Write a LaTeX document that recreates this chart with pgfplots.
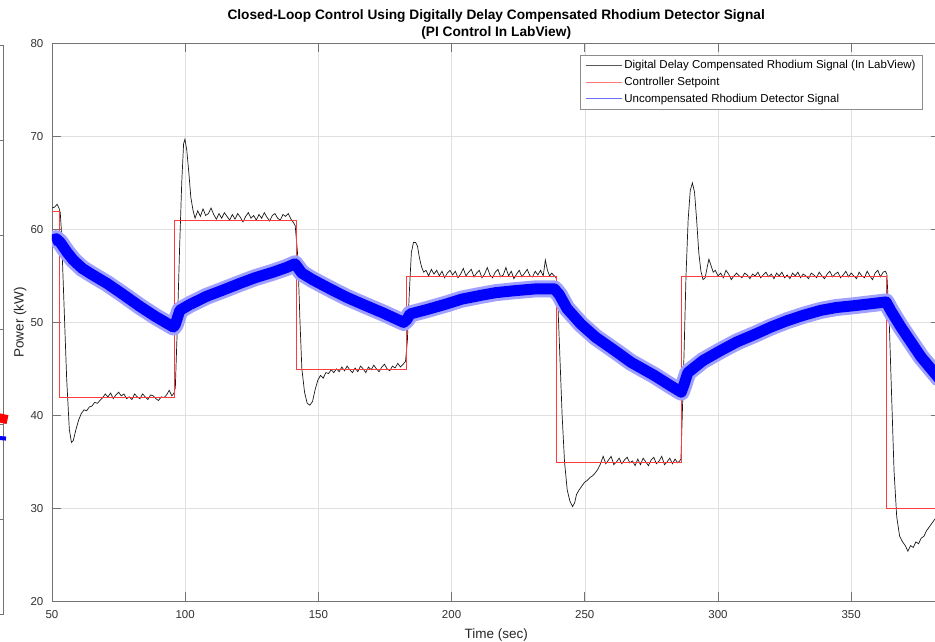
\documentclass[border=0pt]{standalone}
\usepackage{fontspec}
\setmainfont{Liberation Sans}
\usepackage{pgfplots}
\pgfplotsset{compat=1.18}
\definecolor{legblack}{RGB}{90,90,90}
\definecolor{legred}{RGB}{255,120,120}
\definecolor{legblue}{RGB}{110,110,255}
\definecolor{setred}{RGB}{255,60,60}
\definecolor{halo}{RGB}{160,160,255}
\begin{document}
\begin{tikzpicture}
% fragment of neighbouring figure (right edge only visible)
\begin{axis}[at={(-49pt,-12.6pt)}, anchor=south east, scale only axis,
  width=300pt, height=569pt, xmin=0, xmax=100, ymin=0, ymax=6,
  ytick={1,2,3,4,5}, xtick=\empty, yticklabels={},
  axis line style={black!55, line width=0.6pt}, tick style={black!55},
  major tick length=9pt, tick align=inside, clip=false]
\addplot[red, line width=9pt, forget plot] coordinates {(97,2.08) (101.5,2.05)};
\addplot[blue, line width=4pt, forget plot] coordinates {(97,1.86) (101,1.85)};
\end{axis}
\begin{axis}[at={(0pt,0pt)}, anchor=south west, scale only axis,
  width=888.4pt, height=558pt,
  xmin=50, xmax=383.5, ymin=20, ymax=80,
  xtick={50,100,...,350}, ytick={20,30,...,80},
  grid=major, grid style={black!12, line width=0.5pt},
  axis line style={black!55, line width=0.6pt}, tick style={black!55, line width=0.6pt},
  tick align=inside, major tick length=9pt,
  /pgf/number format/assume math mode=true,
  ticklabel style={font=\fontsize{11.5}{13}\selectfont, text=black!80},
  xticklabel style={anchor=center, yshift=-13.6pt, inner sep=0pt},
  yticklabel style={anchor=east, xshift=-8.5pt, inner sep=0pt},
  title={Closed-Loop Control Using Digitally Delay Compensated Rhodium Detector Signal\\(PI Control In LabView)},
  title style={font=\bfseries\fontsize{13.7}{17}\selectfont, align=center,
    at={(axis description cs:0.5,1)}, anchor=center, yshift=13pt},
  xlabel={Time (sec)}, ylabel={Power (kW)},
  label style={font=\fontsize{13.5}{15}\selectfont, text=black!85},
  xlabel style={at={(axis description cs:0.5,0)}, anchor=center, yshift=-33.6pt},
  ylabel style={at={(axis description cs:-0.036,0.5)}, anchor=center},
  legend style={at={(axis cs:376.9,78.75)}, anchor=north east, draw=black!45, fill=white,
    font=\fontsize{11.5}{13}\selectfont, row sep=3pt, inner xsep=5pt, inner ysep=3pt},
  legend cell align=left,
  legend image code/.code={\draw[#1] (0pt,0pt) -- (36pt,0pt);},
]
\addlegendimage{draw=legblack, line width=0.7pt}
\addlegendentry{Digital Delay Compensated Rhodium Signal (In LabView)}
\addlegendimage{draw=legred, line width=0.7pt}
\addlegendentry{Controller Setpoint}
\addlegendimage{draw=legblue, line width=0.7pt}
\addlegendentry{Uncompensated Rhodium Detector Signal}

% compensated signal
\addplot[black!90, line width=0.7pt, forget plot] coordinates {
(50,62.3)(51,62.4)(51.9,62.7)(52.6,62.3)(53.1,61.8)
(53.5,60)(54.5,52)(55.5,44)(56.5,38.5)(57.3,37.1)(58,37.3)(59,38.5)(60,39.5)(61,40.2)(62,40.6)
(63,40.5)(64,40.9)(65,41.0)(66,41.4)(67,41.3)(68,41.6)(69,41.9)(70,42.3)(71,42.0)(72,42.4)
(73,41.8)(74,42.2)(75,42.5)(76,42.1)(77,42.3)(78,41.8)(79,42.0)(80,41.7)(81,42.3)(82,42.0)
(83,41.8)(84,42.3)(85,42.0)(86,41.7)(87,42.2)(88,42.1)(89,41.8)(90,41.6)(91,42.0)(92,41.9)
(93,42.2)(94,42.7)(95,42.1)(95.8,42.4)
(96.3,43)(97.1,50)(97.9,58)(98.7,65)(99.4,69.2)(99.9,69.7)(100.6,68.5)(101.4,66)(102.1,63.5)(102.9,62.1)(103.7,61.2)
(104.7,62.0)(105.7,61.4)(106.7,62.2)(107.7,61.5)(108.7,61.7)(109.7,62.3)(110.7,61.6)(111.7,61.1)
(112.7,61.7)(113.7,61.2)(114.7,61.8)(115.7,61.4)(116.7,61.0)(117.7,61.6)(118.7,61.1)(119.7,61.7)
(120.7,61.3)(121.7,60.8)(122.7,61.4)(123.7,61.8)(124.7,61.2)(125.7,61.5)(126.7,61.0)(127.7,61.6)
(128.7,61.2)(129.7,61.8)(130.7,61.3)(131.7,60.9)(132.7,61.5)(133.7,61.7)(134.7,61.2)(135.7,61.0)
(136.7,61.6)(137.7,61.4)(138.7,61.7)(139.7,61.1)(140.5,60.8)(141.3,60.4)
(142.3,57)(143.1,50)(143.8,45)(144.8,42.5)(145.8,41.3)(146.8,41.1)(147.8,41.5)(148.8,42.8)(149.8,43.8)(150.8,44.3)
(151.8,44.0)(152.8,44.6)(153.8,44.5)(154.8,44.9)(155.8,44.6)(156.8,45.0)(157.8,44.7)(158.8,45.2)
(159.8,44.8)(160.8,45.3)(161.8,44.9)(162.8,44.6)(163.8,45.1)(164.8,44.7)(165.8,45.3)(166.8,45.0)
(167.8,44.6)(168.8,45.2)(169.8,44.9)(170.8,45.4)(171.8,45.0)(172.8,44.7)(173.8,45.2)(174.8,45.5)
(175.8,45.0)(176.8,44.8)(177.8,45.3)(178.8,45.1)(179.8,45.6)(180.8,45.2)(181.8,45.5)(182.7,45.8)
(183.4,48)(184.1,53)(184.9,57.5)(185.7,58.6)(186.5,58.6)(187.2,58.2)(187.9,57)(188.7,56)(189.5,55.4)(190.4,55.6)
(191.4,55.0)(192.4,55.7)(193.4,55.2)(194.4,55.6)(195.4,55.0)(196.4,55.5)(197.4,54.8)(198.4,55.3)
(199.4,55.6)(200.4,55.1)(201.4,55.5)(202.4,54.8)(203.4,55.2)(204.4,55.8)(205.4,55.0)(206.4,55.4)
(207.4,55.7)(208.4,54.9)(209.4,55.3)(210.4,55.6)(211.4,54.8)(212.4,55.2)(213.4,55.9)(214.4,55.1)
(215.4,54.8)(216.4,55.4)(217.4,55.7)(218.4,54.9)(219.4,55.1)(220.4,55.9)(221.4,55.0)(222.4,55.5)
(223.4,54.7)(224.4,55.2)(225.4,55.6)(226.4,54.9)(227.4,55.3)(228.4,55.7)(229.4,55.0)(230.4,54.9)
(231.4,55.5)(232.4,55.1)(233.4,55.6)(234.4,55.0)(235.2,56.7)(236,55.6)(236.8,55.0)(237.6,55.3)(238.5,55.0)(239.3,54.8)
(239.9,52)(240.7,46)(241.5,40)(242.4,35)(243.4,32)(244.4,30.8)(245.4,30.2)(246.2,30.6)(246.9,31.5)
(247.9,32.0)(248.9,32.4)(249.9,32.8)(250.9,33.0)(251.9,33.3)(252.9,33.5)(253.9,33.8)(254.9,34.2)(255.9,34.8)(256.9,35.6)
(257.9,34.8)(258.9,35.2)(259.9,35.6)(260.9,34.7)(261.9,35.0)(262.9,35.4)(263.9,34.8)(264.9,35.2)
(265.9,35.5)(266.9,34.9)(267.9,35.1)(268.9,34.6)(269.9,35.3)(270.9,34.7)(271.9,35.4)(272.9,35.0)
(273.9,34.6)(274.9,35.2)(275.9,35.5)(276.9,34.8)(277.9,35.1)(278.9,35.6)(279.9,34.7)(280.9,35.0)
(281.9,35.4)(282.9,34.8)(283.9,35.3)(284.9,34.9)(285.6,35.1)(286.1,35.3)
(286.6,40)(287.3,47)(288,55)(288.8,61)(289.6,64.2)(290.4,65.0)(291.2,64)(292,61)(292.8,57.5)(293.6,55.5)
(294.4,54.6)(295.2,54.8)(296,56)(296.6,56.8)(297.4,56.1)(298.2,55.4)(299,55.6)
(300,55.0)(301,55.3)(302,54.8)(303,55.6)(304,55.2)(305,54.6)(306,55.0)(307,55.3)(308,55.0)(309,54.8)
(310,55.3)(311,55.1)(312,54.7)(313,55.2)(314,55.0)(315,55.4)(316,54.8)(317,55.1)(318,55.4)(319,54.9)
(320,55.2)(321,54.7)(322,55.3)(323,55.0)(324,55.4)(325,54.8)(326,55.1)(327,54.7)(328,55.3)(329,55.0)
(330,55.4)(331,54.8)(332,55.2)(333,55.0)(334,54.7)(335,55.3)(336,55.1)(337,54.8)(338,55.4)(339,55.0)
(340,54.7)(341,55.2)(342,55.5)(343,54.9)(344,55.2)(345,55.4)(346,54.8)(347,55.1)(348,55.5)(349,54.9)
(350,55.3)(351,55.0)(352,54.7)(353,55.4)(354,55.0)(355,54.8)(356,55.5)(357,55.0)(358,54.6)(359,55.3)
(360,55.6)(361,54.9)(362,55.4)(362.8,55.5)(363.4,55.2)
(364.3,50)(365.2,42)(366.1,34)(367.1,29.1)(368.2,27.0)(369.3,26.4)(370.3,26.0)(371.3,25.4)
(372.3,26.0)(373.3,25.8)(374.3,26.4)(375.3,26.2)(376.3,26.8)(377.3,27.0)(378.3,27.6)(379.3,28.0)
(380.3,28.4)(381.3,28.8)(383.5,29.5)
};

% setpoint
\addplot[draw=setred, line width=0.55pt, forget plot] coordinates {
(50,62)(52.7,62)(52.7,42)(95.9,42)(95.9,61)(141.6,61)(141.6,45)(182.9,45)(182.9,55)
(239.2,55)(239.2,35)(286.1,35)(286.1,55)(363.3,55)(363.3,30)(383.5,30)
};

% uncompensated signal: halo and core
\pgfplotstableread{
x y
50 58.8
51.6 59.0
53.1 58.6
55.5 57.6
58 56.7
61.4 55.8
65.3 55.1
70.6 54.2
76.2 53.1
83.1 51.7
89 50.6
95.6 49.5
96.3 49.8
98 51.3
101.6 51.9
108 52.8
114.4 53.5
120.6 54.2
126.2 54.8
133 55.4
138 55.9
141.2 56.3
143.8 55.3
147.8 54.6
154.4 53.6
160.6 52.7
167 51.9
174.4 51.0
182 50.0
183.2 50.3
184.4 50.9
191 51.4
198.3 52.0
203.8 52.5
210.8 52.9
216.6 53.2
223.4 53.4
231.4 53.6
238.6 53.6
240.4 53.0
243.3 51.5
248.6 49.8
254.1 48.4
261.1 47.0
267.4 45.7
276.1 44.3
281.6 43.3
286.2 42.5
287.1 43.2
288.7 44.6
294.4 45.9
301.2 47.0
307.1 47.9
313.7 48.7
319.9 49.5
326.1 50.2
332.5 50.8
338.7 51.3
344.4 51.6
351.2 51.8
357.2 52.0
363.1 52.2
365 51.2
368.9 49.4
376.2 46.3
383.5 43.8
}\bluetab
\addplot[draw=halo, line width=17pt, line join=round, forget plot] table {\bluetab};
\addplot[draw=blue, line width=11pt, line join=round, forget plot] table {\bluetab};
\end{axis}
\pgfresetboundingbox
\useasboundingbox (-52pt,-40.6pt) rectangle (883pt,601.4pt);
\end{tikzpicture}
\end{document}
